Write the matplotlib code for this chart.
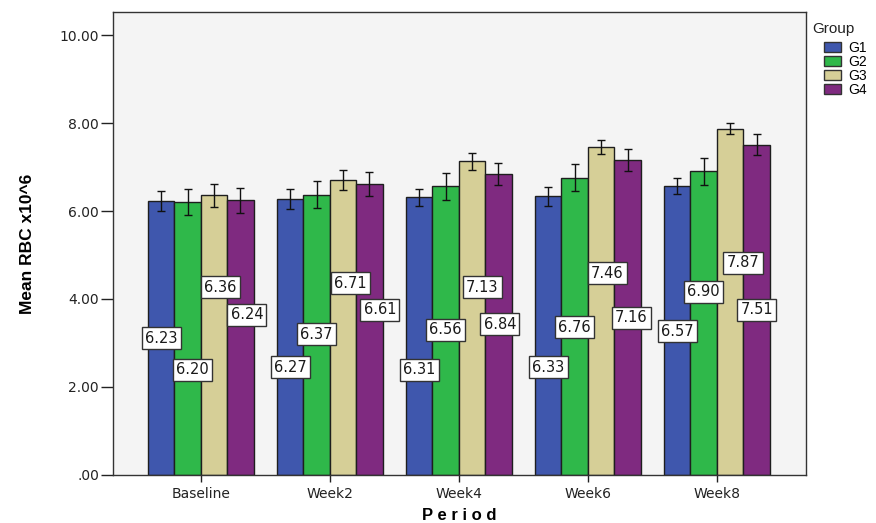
import matplotlib
matplotlib.use("Agg")
import matplotlib.pyplot as plt
import numpy as np
from matplotlib.patches import Patch

periods = ["Baseline", "Week2", "Week4", "Week6", "Week8"]
groups = ["G1", "G2", "G3", "G4"]
means = {
    "G1": [6.23, 6.27, 6.31, 6.33, 6.57],
    "G2": [6.20, 6.37, 6.56, 6.76, 6.90],
    "G3": [6.36, 6.71, 7.13, 7.46, 7.87],
    "G4": [6.24, 6.61, 6.84, 7.16, 7.51],
}
errors = {
    "G1": [0.22, 0.235, 0.19, 0.21, 0.185],
    "G2": [0.30, 0.31, 0.31, 0.31, 0.30],
    "G3": [0.26, 0.23, 0.19, 0.16, 0.13],
    "G4": [0.29, 0.28, 0.25, 0.25, 0.24],
}
yticks = [0, 2, 4, 6, 8, 10]
ytick_labels = [".00", "2.00", "4.00", "6.00", "8.00", "10.00"]

# label placement (layout only)
label_y = {
    "G1": [3.11, 2.45, 2.39, 2.45, 3.27],
    "G2": [2.39, 3.20, 3.30, 3.36, 4.16],
    "G3": [4.27, 4.36, 4.27, 4.59, 4.82],
    "G4": [3.64, 3.75, 3.43, 3.57, 3.75],
}
label_dx = {
    "G1": [0.0, 0.0, 0.0, 0.0, 0.0],
    "G2": [0.04, 0.0, 0.0, 0.0, 0.0],
    "G3": [0.05, 0.06, 0.08, 0.05, 0.10],
    "G4": [0.05, 0.08, 0.01, 0.03, 0.0],
}

colors = {"G1": "#3F57AD", "G2": "#2FB84A", "G3": "#D6CF97", "G4": "#7F2A80"}
tick_font = "DejaVu Sans"

fig = plt.figure(figsize=(8.76, 5.23), dpi=100)
ax = fig.add_axes([0.129, 0.0918, 0.791, 0.885])
ax.set_facecolor("#F4F4F4")

x = np.arange(len(periods))
w = 0.205
for i, g in enumerate(groups):
    xs = x + (i - 1.5) * w
    ax.bar(xs, means[g], width=w, color=colors[g], edgecolor="#1E1E1E",
           linewidth=1.0, zorder=2)
    ax.errorbar(xs, means[g], yerr=errors[g], fmt="none", ecolor="#111111",
                elinewidth=1.0, capsize=2.8, capthick=1.0, zorder=3)
    for j, v in enumerate(means[g]):
        ax.text(xs[j] + label_dx[g][j], label_y[g][j], f"{v:.2f}",
                ha="center", va="center", fontsize=10.5, family=tick_font,
                color="#1A1A1A", zorder=4,
                bbox=dict(boxstyle="square,pad=0.22", fc="white", ec="#333333", lw=1.0))

ax.set_xlim(-0.68, 4.69)
ax.set_ylim(0, 10.52)
ax.set_xticks(x)
ax.set_xticklabels(periods, fontsize=10, family=tick_font, color="#222222")
ax.set_yticks(yticks)
ax.set_yticklabels(ytick_labels, fontsize=10, family=tick_font, color="#222222")
ax.tick_params(axis="y", direction="out", length=9, width=1.0, color="#222222", pad=1)
ax.tick_params(axis="x", direction="out", length=5, width=1.0, color="#222222", pad=4)
for s in ax.spines.values():
    s.set_color("#333333")
    s.set_linewidth(1.0)

ax.set_xlabel("P e r i o d", fontsize=12, fontweight="bold", family="Liberation Sans",
              labelpad=5)
ax.set_ylabel("Mean RBC x10^6", fontsize=12.5, fontweight="bold",
              family="Liberation Sans", labelpad=18)

fig.text(0.927, 0.945, "Group", fontsize=11, family="Liberation Sans", color="#222222",
         ha="left", va="center")
handles = [Patch(facecolor=colors[g], edgecolor="#333333", label=g) for g in groups]
leg = fig.legend(handles=handles, loc="upper left",
                 bbox_to_anchor=(0.941, 0.922), frameon=False,
                 prop={"family": "Liberation Sans", "size": 10},
                 handlelength=1.2, handleheight=0.75, handletextpad=0.5,
                 labelspacing=0.0, borderaxespad=0.0, borderpad=0.0)

fig.savefig("out.png", dpi=100, facecolor="white")
